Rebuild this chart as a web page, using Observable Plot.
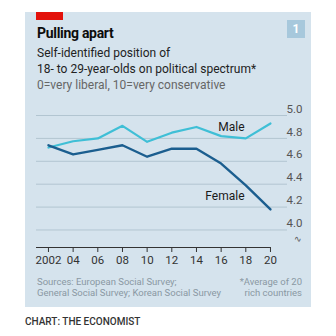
<!DOCTYPE html>
<html><head><meta charset="utf-8">
<script src="https://cdn.jsdelivr.net/npm/d3@7"></script>
<script src="https://cdn.jsdelivr.net/npm/@observablehq/plot@0.6"></script>
<style>
html,body{margin:0;padding:0;background:#fff;width:336px;height:336px;overflow:hidden;font-family:Roboto,"Open Sans",sans-serif;}
.abs{position:absolute;white-space:nowrap;}
#panel{left:25px;top:12px;width:286px;height:295px;background:#d5e3ed;}
#redbar{left:36px;top:12px;width:27px;height:8px;background:#e3120b;}
#badge{left:287px;top:20px;width:18px;height:18px;background:#a7c8dc;color:#fff;font-weight:700;font-size:12px;line-height:18px;text-align:center;}
#title{left:37px;top:26px;font-size:14px;line-height:14px;font-weight:700;color:#0c0c0c;letter-spacing:-0.3px;}
#sub{left:37px;top:45px;font-size:12px;line-height:16px;color:#222;}
#sub .u{color:#666;}
#chart{left:25px;top:98px;}
#src{left:37px;top:276px;font-size:9.5px;line-height:11px;color:#8a98a3;}
#note{right:34px;top:276px;font-size:9.5px;line-height:11px;color:#8a98a3;text-align:right;}
#credit{left:25px;top:316px;font-size:10px;line-height:12px;color:#333;font-weight:500;}
</style></head>
<body>
<div id="panel" class="abs"></div>
<div id="redbar" class="abs"></div>
<div id="badge" class="abs">1</div>
<div id="title" class="abs">Pulling apart</div>
<div id="sub" class="abs">Self-identified position of<br>18- to 29-year-olds on political spectrum*<br><span class="u">0=very liberal, 10=very conservative</span></div>
<div id="chart" class="abs"></div>
<div id="src" class="abs">Sources: European Social Survey;<br>General Social Survey; Korean Social Survey</div>
<div id="note" class="abs">*Average of 20<br>rich countries</div>
<div id="credit" class="abs">CHART: THE ECONOMIST</div>
<script>
const years = [2002, 2004, 2006, 2008, 2010, 2012, 2014, 2016, 2018, 2020];
const male = [4.72, 4.775, 4.80, 4.91, 4.77, 4.85, 4.90, 4.82, 4.80, 4.93];
const female = [4.74, 4.66, 4.70, 4.74, 4.64, 4.71, 4.71, 4.58, 4.39, 4.18];
const yTicks = [4.0, 4.2, 4.4, 4.6, 4.8, 5.0];
const seriesNames = ["Male", "Female"];

const maleColor = "#3fbfd6";
const femaleColor = "#1b5e8f";
const gridColor = "#b2c5d1";

const rows = [];
years.forEach((yr, i) => {
  rows.push({year: yr, value: male[i], series: seriesNames[0]});
  rows.push({year: yr, value: female[i], series: seriesNames[1]});
});
const labels = [
  {series: seriesNames[0], year: 2017.9, value: 4.90},
  {series: seriesNames[1], year: 2017.9, value: 4.295}
];

const xDomain = [2001.03, 2021.38];
const yDomain = [3.847, 5.0];

const chart = Plot.plot({
  width: 286,
  height: 175,
  marginLeft: 11,
  marginRight: 24,
  marginTop: 17,
  marginBottom: 26,
  style: {background: "transparent", fontFamily: "Roboto, sans-serif", fontSize: "11.5px", color: "#333", overflow: "visible"},
  x: {domain: xDomain, ticks: years, tickSize: 5, tickPadding: 3, tickFormat: d => d === 2002 ? "2002" : String(d).slice(2), label: null},
  y: {domain: yDomain, axis: null},
  marks: [
    Plot.ruleY(yTicks, {stroke: gridColor, strokeWidth: 1}),
    Plot.ruleY([yDomain[0]], {x1: xDomain[0], x2: years[years.length - 1], stroke: "#333", strokeWidth: 1}),
    Plot.text(yTicks, {y: d => d, frameAnchor: "right", text: d => d.toFixed(1), textAnchor: "end", dx: 15, dy: -6.5, fill: "#555", fontSize: 11.5}),
    Plot.text(["∿"], {frameAnchor: "bottom-right", text: d => d, textAnchor: "end", dx: 14, dy: -6, fill: "#555", fontSize: 9}),
    Plot.line(rows.filter(d => d.series === seriesNames[0]), {x: "year", y: "value", stroke: maleColor, strokeWidth: 2.2}),
    Plot.line(rows.filter(d => d.series === seriesNames[1]), {x: "year", y: "value", stroke: femaleColor, strokeWidth: 2.4}),
    Plot.text(labels, {x: "year", y: "value", text: "series", textAnchor: "end", fill: "#1a1a1a", fontSize: 12})
  ]
});
document.getElementById("chart").appendChild(chart);
</script>
</body></html>
